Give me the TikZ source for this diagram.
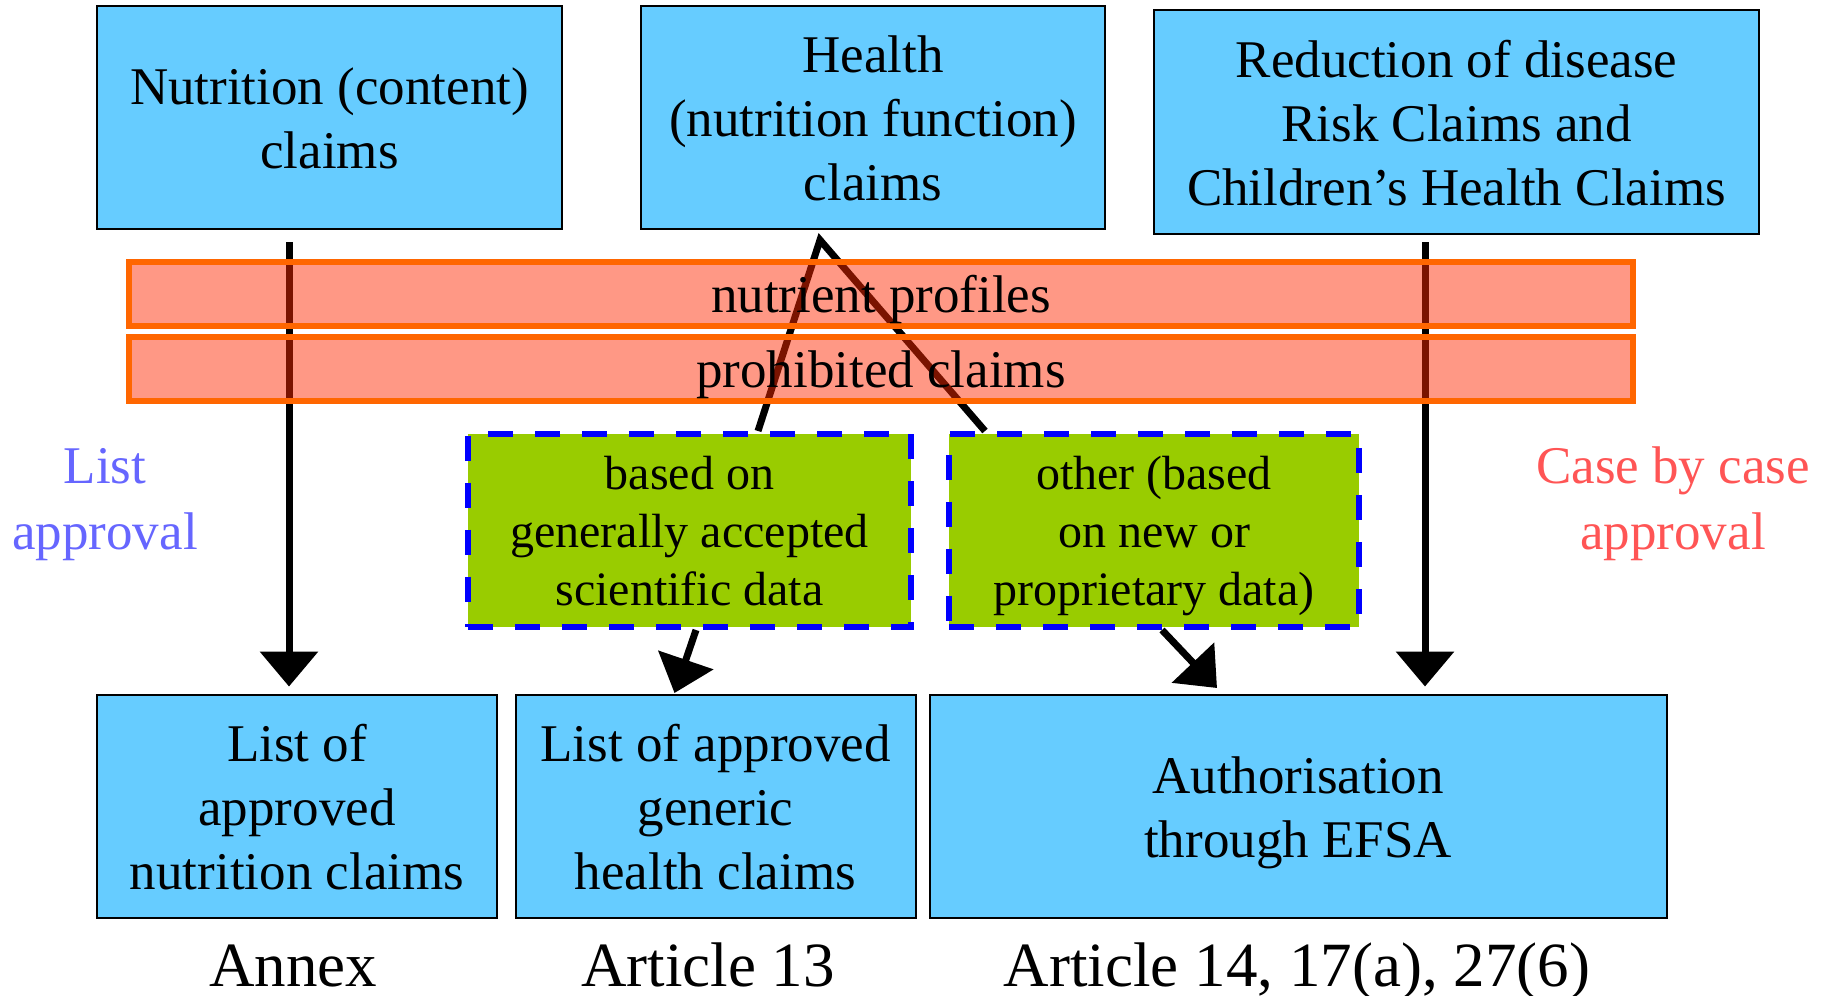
\documentclass[tikz,border=0pt]{standalone}
\usepackage{fontspec}
\setmainfont{Liberation Serif}
\usetikzlibrary{arrows.meta}
\definecolor{boxblue}{HTML}{66CCFF}
\definecolor{leaf}{HTML}{99CC00}
\definecolor{bandedge}{HTML}{FF6600}
\definecolor{bandfill}{RGB}{255,40,0}
\definecolor{listcol}{HTML}{6666FF}
\definecolor{casecol}{HTML}{FF5555}
% line strut: 0.8 of the line above the baseline, 0.2 below
\newcommand{\ls}{\rule[-0.2\baselineskip]{0pt}{\baselineskip}}

\begin{document}
\begin{tikzpicture}[x=1pt,y=-1pt,
  claim/.style={draw=black, line width=2pt, fill=boxblue, inner sep=0pt,
    align=center, font=\fontsize{53}{64}\selectfont},
  basis/.style={draw=blue, line width=6pt, dash pattern=on 25pt off 22pt,
    fill=leaf, inner sep=0pt, align=center, font=\fontsize{48}{58}\selectfont},
  band/.style={draw=bandedge, line width=6pt, fill=bandfill, fill opacity=0.48,
    draw opacity=1, text opacity=1, inner sep=0pt, minimum width=1504pt,
    minimum height=63pt, font=\fontsize{53}{64}\selectfont},
  side/.style={align=center, inner sep=0pt, font=\fontsize{53}{66}\selectfont},
  article/.style={anchor=base, font=\fontsize{63}{70}\selectfont},
  conn/.style={line width=7pt, miter limit=20},
  arr/.style={line width=7pt, -{Triangle[length=35pt,width=57pt]}}]

\useasboundingbox (0,0) rectangle (1824,996);

% claim categories
\node[claim, minimum width=465pt, minimum height=223pt] (topA) at (329.5,117.5)
  {\ls Nutrition (content)\\claims\ls};
\node[claim, minimum width=464pt, minimum height=223pt] (topB) at (873,117.5)
  {\ls Health\\(nutrition function)\\claims\ls};
\node[claim, minimum width=605pt, minimum height=224pt] (topC) at (1456.5,122)
  {\ls Reduction of disease\\Risk Claims and\\Children’s Health Claims\ls};

% outcomes
\node[claim, minimum width=400pt, minimum height=223pt] (botA) at (297,806)
  {\ls List of\\approved\\nutrition claims\ls};
\node[claim, minimum width=400pt, minimum height=223pt] (botB) at (715.5,806)
  {\ls List of approved\\generic\\health claims\ls};
\node[claim, minimum width=737pt, minimum height=223pt] (botC) at (1298,806)
  {\ls Authorisation\\through EFSA\ls};

% evidence basis
\node[basis, minimum width=443pt, minimum height=193pt] (g1) at (689.5,530)
  {\ls based on\\generally accepted\\scientific data\ls};
\node[basis, minimum width=410pt, minimum height=193pt] (g2) at (1154,530)
  {\ls other (based\\on new or\\proprietary data)\ls};

% side labels
\node[side, text=listcol] (listap) at (105,497) {\ls List\\approval\ls};
\node[side, text=casecol] (caseap) at (1673,497) {\ls Case by case\\approval\ls};

% legal basis
\node[article] (annex) at (293,986) {Annex};
\node[article] (art13) at (708,986) {Article 13};
\node[article] (art14) at (1297,986) {Article 14, 17(a), 27(6)};

% connectors
\coordinate (lnA) at (289,0);
\coordinate (lnC) at (1425,0);
\coordinate (apex) at (820,240);
\coordinate (g1in) at (758,431);
\coordinate (g2in) at (985,431);
\coordinate (g1out) at (696,630);
\coordinate (g1tip) at (674.5,693);
\coordinate (g2out) at (1162,630);
\coordinate (g2tip) at (1217,688);

\draw[arr, shorten <=12pt, shorten >=7pt] (lnA |- topA.south) -- (lnA |- botA.north);
\draw[arr, shorten <=7pt, shorten >=7pt] (lnC |- topC.south) -- (lnC |- botC.north);
\draw[conn] (g1in) -- (apex) -- (g2in);
\draw[arr] (g1out) -- (g1tip);
\draw[arr] (g2out) -- (g2tip);

% screening bands
\node[band] (nprof) at (881,293.5) {\ls nutrient profiles};
\node[band] (prohib) at (881,368.5) {\ls prohibited claims};
\end{tikzpicture}
\end{document}
